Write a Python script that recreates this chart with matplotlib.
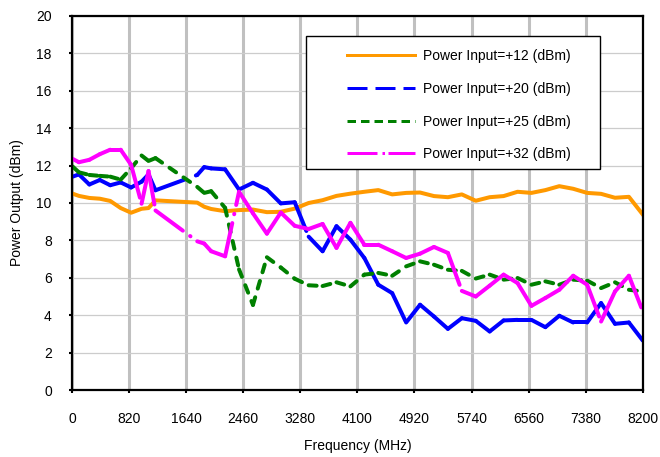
import matplotlib
matplotlib.use("Agg")
import matplotlib.pyplot as plt
from matplotlib.lines import Line2D
from matplotlib.patches import Rectangle

plt.rcParams["font.family"] = ["Liberation Sans", "DejaVu Sans"]
plt.rcParams["lines.scale_dashes"] = False

freq = [10, 100, 250, 400, 550, 700, 850, 1000, 1100, 1200,
        1800, 1900, 2000, 2200, 2400, 2600, 2800, 3000, 3200, 3400,
        3600, 3800, 4000, 4200, 4400, 4600, 4800, 5000, 5200, 5400,
        5600, 5800, 6000, 6200, 6400, 6600, 6800, 7000, 7200, 7400,
        7600, 7800, 8000, 8200]

p12 = [10.50, 10.38, 10.27, 10.23, 10.11, 9.73, 9.48, 9.69, 9.73, 10.14,
       10.02, 9.80, 9.68, 9.56, 9.62, 9.65, 9.51, 9.53, 9.70, 10.00,
       10.15, 10.38, 10.50, 10.60, 10.69, 10.46, 10.54, 10.56, 10.37, 10.31,
       10.46, 10.12, 10.31, 10.37, 10.60, 10.54, 10.69, 10.90, 10.76, 10.54,
       10.49, 10.28, 10.33, 9.38]

p20 = [11.41, 11.53, 10.99, 11.23, 10.95, 11.10, 10.83, 11.14, 11.53, 10.68,
       11.50, 11.92, 11.85, 11.80, 10.72, 11.08, 10.72, 9.98, 10.04, 8.20,
       7.42, 8.76, 8.04, 7.06, 5.63, 5.18, 3.61, 4.56, 3.93, 3.27,
       3.84, 3.70, 3.13, 3.72, 3.75, 3.75, 3.36, 3.97, 3.61, 3.61,
       4.65, 3.54, 3.61, 2.64]

p25 = [11.95, 11.64, 11.50, 11.45, 11.41, 11.25, 11.86, 12.54, 12.25, 12.40,
       10.86, 10.54, 10.63, 9.74, 6.45, 4.55, 7.10, 6.55, 5.95, 5.60,
       5.56, 5.76, 5.54, 6.17, 6.26, 6.11, 6.61, 6.88, 6.70, 6.43,
       6.37, 5.96, 6.17, 5.90, 5.99, 5.63, 5.81, 5.63, 5.90, 5.85,
       5.45, 5.76, 5.36, 5.27]

p32 = [12.36, 12.18, 12.31, 12.61, 12.85, 12.85, 12.04, 9.96, 11.71, 9.60,
       7.95, 7.83, 7.42, 7.15, 10.60, 9.45, 8.36, 9.49, 8.78, 8.61,
       8.88, 7.60, 8.94, 7.77, 7.77, 7.42, 7.06, 7.29, 7.65, 7.33,
       5.30, 5.00, 5.58, 6.17, 5.72, 4.50, 4.92, 5.36, 6.11, 5.63,
       3.66, 5.27, 6.11, 4.20]

labels = ["Power Input=+12 (dBm)", "Power Input=+20 (dBm)",
          "Power Input=+25 (dBm)", "Power Input=+32 (dBm)"]
colors = ["#FF9900", "#0000FF", "#008000", "#FF00FF"]

px = 0.72  # one pixel in points at 100 dpi
lw = 4 * px

fig = plt.figure(figsize=(6.6, 4.57), dpi=100)
ax = fig.add_axes([0.109, 0.1466, 0.865, 0.8184])

ax.plot(freq, p12, color=colors[0], lw=lw, solid_joinstyle="round", zorder=3)


def seg_plot(y, color, dashes):
    # dash pattern starts again at every point, like the original
    for i in range(len(freq) - 1):
        ax.plot(freq[i:i + 2], y[i:i + 2], color=color, lw=lw,
                dashes=dashes, dash_capstyle="round", zorder=3)


seg_plot(p20, colors[1], (31 * px, 12 * px))
seg_plot(p25, colors[2], (8 * px, 9 * px))
seg_plot(p32, colors[3], (34 * px, 9 * px, 0.5 * px, 9 * px))

ax.set_xlim(0, 8200)
ax.set_ylim(0, 20)
ax.set_xticks(range(0, 8201, 820))
ax.set_yticks(range(0, 21, 2))

ax.xaxis.grid(True, color="#c0c0c0", lw=2.2)
ax.yaxis.grid(True, color="#cccccc", lw=0.9)
ax.set_axisbelow(True)
for s in ax.spines.values():
    s.set_linewidth(1.6)
    s.set_color("black")
    s.set_zorder(6)

ax.tick_params(direction="out", length=2.5, width=1.5, labelsize=10)
ax.tick_params(axis="x", pad=13)
ax.tick_params(axis="y", pad=12)

ax.set_xlabel("Frequency (MHz)", fontsize=10, labelpad=10)
ax.set_ylabel("Power Output (dBm)", fontsize=10, labelpad=9)

# legend box
ax.add_patch(Rectangle((0.41, 0.591), 0.515, 0.3555, transform=ax.transAxes,
                       facecolor="white", edgecolor="black", lw=1.0, zorder=5))
handles = [
    Line2D([], [], color=colors[0], lw=3 * px),
    Line2D([], [], color=colors[1], lw=3 * px, dashes=(20 * px, 8 * px)),
    Line2D([], [], color=colors[2], lw=3 * px, dashes=(8.5 * px, 5 * px)),
    Line2D([], [], color=colors[3], lw=3 * px,
           dashes=(30 * px, 5 * px, 2.5 * px, 3.5 * px)),
]
leg = ax.legend(handles, labels, loc="upper left",
                bbox_to_anchor=(0.4816, 0.911), frameon=False, fontsize=10,
                handlelength=4.9, handletextpad=0.58, labelspacing=1.34,
                borderpad=0, borderaxespad=0)
leg.set_zorder(7)

fig.savefig("out.png", dpi=100)
